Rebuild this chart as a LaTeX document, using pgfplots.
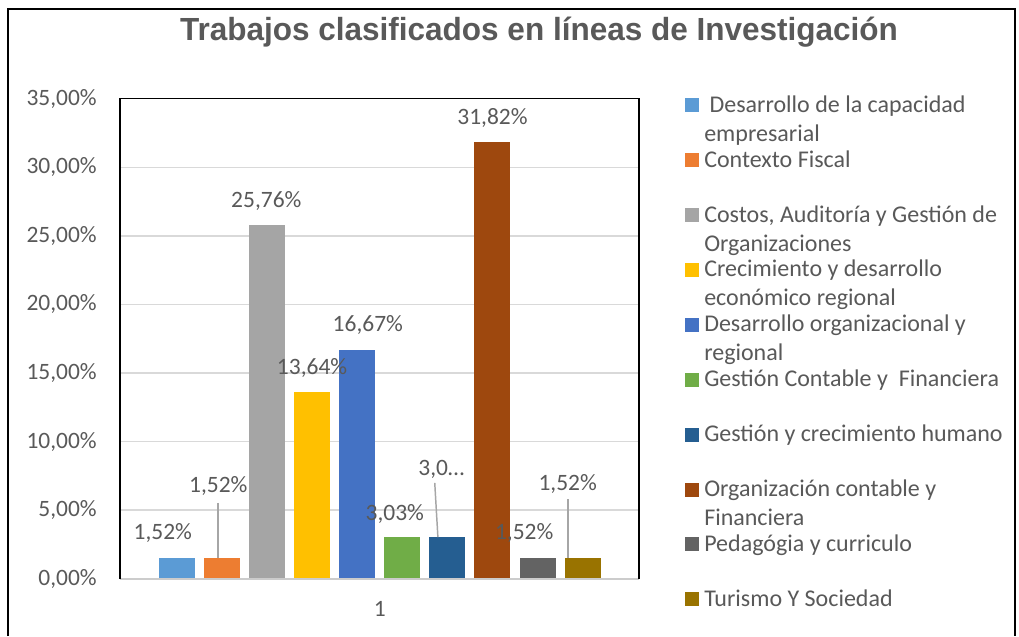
\documentclass[border=0pt]{standalone}
\usepackage{pgfplots}
\pgfplotsset{compat=1.18}
\usepackage{fontspec}
\setmainfont{Carlito}
\newfontfamily\titlefont{Liberation Sans}
\definecolor{c1}{HTML}{5B9BD5}
\definecolor{c2}{HTML}{ED7D31}
\definecolor{c3}{HTML}{A5A5A5}
\definecolor{c4}{HTML}{FFC000}
\definecolor{c5}{HTML}{4472C4}
\definecolor{c6}{HTML}{70AD47}
\definecolor{c7}{HTML}{255E91}
\definecolor{c8}{HTML}{9E480E}
\definecolor{c9}{HTML}{636363}
\definecolor{c10}{HTML}{997300}
\definecolor{txt}{HTML}{595959}
\definecolor{gridc}{HTML}{D9D9D9}
\definecolor{axc}{HTML}{CCCCCC}
\definecolor{lead}{HTML}{A6A6A6}
\newcommand{\lbl}{\fontsize{17.6pt}{21.75pt}\selectfont}
\newcommand{\lgf}{\fontsize{18pt}{21.75pt}\selectfont}
\newcommand{\lent}[1]{\parbox[t][41.17pt][t]{236pt}{\lgf\rule{0pt}{15pt}#1}}
\begin{document}
\begin{tikzpicture}
\useasboundingbox (0,0) rectangle (764.25pt,477pt);
\fill[white] (0,0) rectangle (764.25pt,477pt);
\draw[black, line width=1pt] (6pt,0) -- (6pt,470.25pt) -- (761.25pt,470.25pt) -- (761.25pt,0);
\node[anchor=base, inner sep=0pt, text=txt] at (404.25pt,446.25pt)
  {\resizebox{538.5pt}{\height}{\titlefont\bfseries\fontsize{24pt}{28pt}\selectfont Trabajos clasificados en líneas de Investigación}};
\begin{axis}[
  at={(90pt,42.98pt)}, anchor=south west,
  scale only axis, width=389.25pt, height=360pt,
  clip=false,
  xmin=-0.26, xmax=11.25, ymin=0, ymax=35,
  ybar, bar width=27pt, bar shift=0pt,
  xtick={5.5}, xticklabels={1},
  ytick={0,5,...,35},
  yticklabel={\pgfmathprintnumber[fixed,fixed zerofill,precision=2,use comma]{\tick}\%},
  /pgf/number format/assume math mode=true,
  major tick length=0pt,
  tick style={draw=none},
  axis line style={draw=none},
  ymajorgrids, grid style={gridc, line width=1.1pt},
  yticklabel style={font=\lbl, text=txt, anchor=east, inner sep=0pt, xshift=-17.25pt},
  xticklabel style={font=\lbl, text=txt, anchor=base, inner sep=0pt, yshift=-28.7pt},
  nodes near coords={\pgfmathprintnumber[fixed,fixed zerofill,precision=2,use comma]{\pgfplotspointmeta}\%},
  every node near coord/.append style={font=\lbl, text=txt, anchor=base, inner sep=0pt},
  legend cell align=left,
  legend style={at={(1,1)}, anchor=north west, xshift=34.5pt, yshift=5pt,
    draw=none, fill=none, inner sep=0pt, row sep=0pt, column sep=3.75pt,
    cells={anchor=base west},
    nodes={inner sep=0pt, outer sep=0pt, text=txt}},
  legend image code/.code={\fill[#1] (0pt,0pt) rectangle (10.5pt,10.5pt);
    \path[fill=none, draw=none] (0pt,-26.17pt) rectangle (10.5pt,15pt);},
]
\addplot[fill=c1, draw=none, every node near coord/.append style={xshift=-10.5pt, yshift=13.4pt}] coordinates {(1,1.52)};
\addlegendentry{\lent{\hspace*{4pt}Desarrollo de la capacidad\\empresarial}}
\addplot[fill=c2, draw=none, every node near coord/.append style={xshift=-2.7pt, yshift=48.7pt}] coordinates {(2,1.52)};
\addlegendentry{\lent{Contexto Fiscal}}
\addplot[fill=c3, draw=none, every node near coord/.append style={xshift=-0.5pt, yshift=13.8pt}] coordinates {(3,25.76)};
\addlegendentry{\lent{Costos, Auditoría y Gestión de\\Organizaciones}}
\addplot[fill=c4, draw=none, every node near coord/.append style={xshift=0pt, yshift=13.2pt}] coordinates {(4,13.64)};
\addlegendentry{\lent{Crecimiento y desarrollo\\económico regional}}
\addplot[fill=c5, draw=none, every node near coord/.append style={xshift=8pt, yshift=13.6pt}] coordinates {(5,16.67)};
\addlegendentry{\lent{Desarrollo organizacional y\\regional}}
\addplot[fill=c6, draw=none, every node near coord/.append style={xshift=-5.6pt, yshift=12.8pt}] coordinates {(6,3.03)};
\addlegendentry{\lent{Gestión Contable y\ \ Financiera}}
\addplot[fill=c7, draw=none, nodes near coords={3,0…}, every node near coord/.append style={xshift=-4.5pt, yshift=46.5pt}] coordinates {(7,3.03)};
\addlegendentry{\lent{Gestión y crecimiento humano}}
\addplot[fill=c8, draw=none, every node near coord/.append style={xshift=0pt, yshift=13pt}] coordinates {(8,31.82)};
\addlegendentry{\lent{Organización contable y\\Financiera}}
\addplot[fill=c9, draw=none, every node near coord/.append style={xshift=-10pt, yshift=13.4pt}] coordinates {(9,1.52)};
\addlegendentry{\lent{Pedagógia y curriculo}}
\addplot[fill=c10, draw=none, every node near coord/.append style={xshift=-11.2pt, yshift=50.2pt}] coordinates {(10,1.52)};
\addlegendentry{\lent{Turismo Y Sociedad}}
\draw[lead, line width=1.1pt] (axis cs:1.909,5.52) -- (axis cs:1.909,1.52);
\draw[lead, line width=1.1pt] (axis cs:6.72,6.99) -- (axis cs:6.79,3.03);
\draw[lead, line width=1.1pt] (axis cs:9.67,5.81) -- (axis cs:9.67,1.52);
\draw[axc, line width=1.5pt] (rel axis cs:0,0) -- (rel axis cs:1,0);
\draw[black, line width=1.1pt] (rel axis cs:0,0) -- (rel axis cs:0,1) -- (rel axis cs:1,1) -- (rel axis cs:1,0);
\end{axis}
\end{tikzpicture}
\end{document}
